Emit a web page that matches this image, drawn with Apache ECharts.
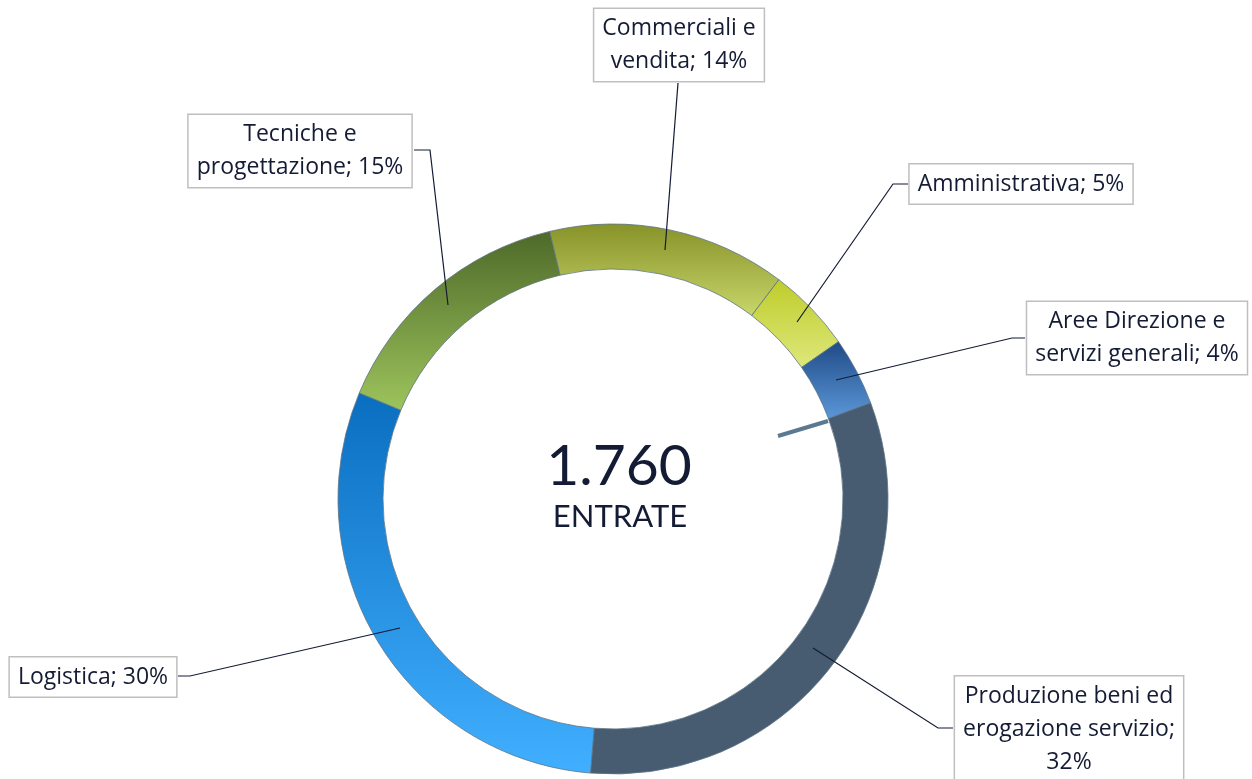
<!DOCTYPE html>
<html>
<head>
<meta charset="utf-8">
<title>Entrate per area</title>
<script src="https://cdn.jsdelivr.net/npm/echarts@6/dist/echarts.min.js"></script>
<style>
  html, body { margin: 0; padding: 0; background: #fff; }
  #chart { width: 1252px; height: 779px; }
</style>
</head>
<body>
<div id="chart"></div>
<script>
// dati
var categories = ['Produzione beni ed\nerogazione servizio', 'Logistica', 'Tecniche e\nprogettazione', 'Commerciali e\nvendita', 'Amministrativa', 'Aree Direzione e\nservizi generali'];
var shares = [32, 30, 15, 14, 5, 4];
var totale = '1.760';
var totaleLabel = 'ENTRATE';

// colori (sfumatura alto -> basso)
var colTop = ['#475c70', '#0a6ec0', '#4e6929', '#879228', '#bfcc2a', '#1f4a86'];
var colBottom = ['#475c70', '#41afff', '#9dc45c', '#c8d66a', '#dde87c', '#5b97d8'];

// posizione etichette (centro box) e linee guida
var labelPos = [[1069, 729], [93, 677], [300, 151], [679, 45], [1021, 184], [1137, 338]];
var leaderPts = [
  [[813, 648], [938, 728], [953, 728]],
  [[400, 628], [190, 676], [178, 676]],
  [[448, 305], [430, 150], [414, 150]],
  [[665, 250], [678, 83]],
  [[797, 322], [893, 184], [908, 184]],
  [[836, 380], [1012, 338], [1025, 338]]
];

var chart = echarts.init(document.getElementById('chart'));

var pieData = [];
for (var i = 0; i < categories.length; i++) {
  pieData.push({
    name: categories[i],
    value: shares[i],
    itemStyle: {
      color: new echarts.graphic.LinearGradient(0, 0, 0, 1, [
        { offset: 0, color: colTop[i] },
        { offset: 1, color: colBottom[i] }
      ])
    }
  });
}

var labelOpt = {
  show: true,
  position: 'outside',
  color: '#141b34',
  fontFamily: 'Open Sans',
  fontSize: 23,
  lineHeight: 33,
  align: 'center',
  backgroundColor: '#fff',
  borderColor: '#bfbfbf',
  borderWidth: 1.5,
  padding: [3, 8],
  formatter: function (p) {
    var sep = p.dataIndex === 0 ? ';\n' : '; ';
    return p.name + sep + p.value + '%';
  }
};

var option = {
  backgroundColor: '#fff',
  animation: false,
  textStyle: { fontFamily: 'Lato' },
  graphic: [
    {
      type: 'text', x: 619, y: 467,
      style: { text: totale, fill: '#141b34', font: '57px Lato', textAlign: 'center', textVerticalAlign: 'middle' }
    },
    {
      type: 'text', x: 620, y: 517,
      style: { text: totaleLabel, fill: '#141b34', font: '31px Lato', textAlign: 'center', textVerticalAlign: 'middle' }
    },
    {
      // piccolo segmento residuo presente nel grafico originale
      type: 'line', z: 10,
      shape: { x1: 778, y1: 436, x2: 828, y2: 421 },
      style: { stroke: '#5b7a92', lineWidth: 4 }
    }
  ],
  series: [
    {
      // anello
      type: 'pie',
      center: [613, 499],
      radius: [230, 275],
      startAngle: 20.5,
      clockwise: true,
      silent: true,
      z: 2,
      itemStyle: { borderColor: '#5c7287', borderWidth: 0.8 },
      label: { show: false },
      labelLine: { show: false },
      data: pieData
    },
    {
      // stesso anello trasparente sopra, solo per etichette e linee guida
      type: 'pie',
      center: [613, 499],
      radius: [230, 275],
      startAngle: 20.5,
      clockwise: true,
      silent: true,
      z: 5,
      avoidLabelOverlap: false,
      itemStyle: { color: 'rgba(0,0,0,0)', borderWidth: 0 },
      label: labelOpt,
      labelLine: {
        show: true,
        lineStyle: { color: '#141b34', width: 1.2 }
      },
      labelLayout: function (params) {
        var i = params.dataIndex;
        return {
          x: labelPos[i][0],
          y: labelPos[i][1],
          align: 'center',
          verticalAlign: 'middle',
          labelLinePoints: leaderPts[i]
        };
      },
      data: categories.map(function (c, i) { return { name: c, value: shares[i] }; })
    }
  ]
};

chart.setOption(option);
</script>
</body>
</html>
